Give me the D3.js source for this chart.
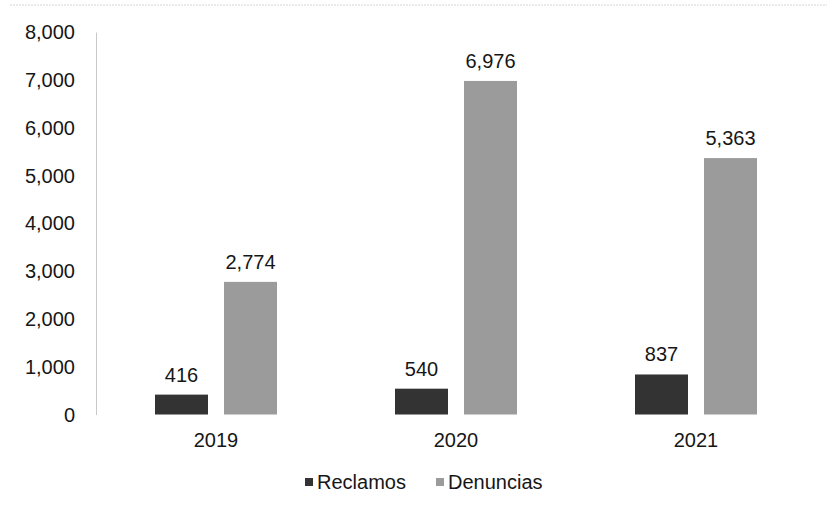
<!DOCTYPE html>
<html>
<head>
<meta charset="utf-8">
<script src="https://cdn.jsdelivr.net/npm/d3@7"></script>
<style>
  body { margin: 0; background: #fff; }
  svg text { font-family: "Liberation Sans", Arial, sans-serif; fill: #161616; font-size: 20px; }
</style>
</head>
<body>
<svg id="chart"></svg>
<script>
const WIDTH = 827;
const HEIGHT = 508;

// data
const years = ['2019', '2020', '2021'];
const series = ['Reclamos', 'Denuncias'];
const reclamos = [416, 540, 837];
const denuncias = [2774, 6976, 5363];
const yTicks = [0, 1000, 2000, 3000, 4000, 5000, 6000, 7000, 8000];
const colors = ['#333333', '#9b9b9b'];

const svg = d3.select('#chart')
    .attr('width', WIDTH)
    .attr('height', HEIGHT);

// scan artefact at the top edge
svg.append('line')
    .attr('x1', 10).attr('x2', WIDTH)
    .attr('y1', 5).attr('y2', 5)
    .attr('stroke', '#d4d4d4')
    .attr('stroke-dasharray', '2,1');

const plotLeft = 96, plotRight = 816, plotTop = 32, plotBottom = 414.5;

let x0 = d3.scaleBand()
    .domain(years)
    .range([plotLeft, plotRight]);

let x1 = d3.scaleBand()
    .domain(series)
    .range([-61, 61])
    .paddingInner(0.232);

let y = d3.scaleLinear()
    .domain([0, 8000])
    .range([plotBottom, plotTop]);

// y axis
let yAxis = d3.axisLeft(y)
    .tickValues(yTicks)
    .tickSize(0)
    .tickPadding(21)
    .tickFormat(d3.format(','));

let yg = svg.append('g')
    .attr('transform', `translate(${plotLeft},0)`)
    .call(yAxis);
yg.select('.domain').attr('stroke', '#c8c8c8');
yg.selectAll('text')
    .style('font-size', '20px')
    .attr('dy', '0.33em');

// x axis labels
let xAxis = d3.axisBottom(x0).tickSize(0).tickPadding(18);
let xg = svg.append('g')
    .attr('transform', `translate(0,${plotBottom})`)
    .call(xAxis);
xg.select('.domain').remove();
xg.selectAll('text').style('font-size', '20px');

// bars
let rows = years.map((yr, i) => ({
    year: yr,
    values: [
        { key: 'Reclamos', value: reclamos[i] },
        { key: 'Denuncias', value: denuncias[i] },
    ],
}));

let groups = svg.selectAll('.group')
    .data(rows)
    .enter().append('g')
    .attr('class', 'group')
    .attr('transform', d => `translate(${x0(d.year) + x0.bandwidth() / 2},0)`);

groups.selectAll('rect')
    .data(d => d.values)
    .enter().append('rect')
    .attr('x', d => x1(d.key))
    .attr('y', d => y(d.value))
    .attr('width', x1.bandwidth())
    .attr('height', d => plotBottom - y(d.value))
    .attr('fill', (d, i) => colors[i]);

groups.selectAll('.label')
    .data(d => d.values)
    .enter().append('text')
    .attr('class', 'label')
    .attr('x', d => x1(d.key) + x1.bandwidth() / 2)
    .attr('y', d => y(d.value) - 13)
    .attr('text-anchor', 'middle')
    .text(d => d3.format(',')(d.value));

// legend
const legendX = [305, 436];
let legend = svg.selectAll('.legend')
    .data(series)
    .enter().append('g')
    .attr('class', 'legend')
    .attr('transform', (d, i) => `translate(${legendX[i]},482)`);

legend.append('rect')
    .attr('width', 8)
    .attr('height', 8)
    .attr('y', -4)
    .attr('fill', (d, i) => colors[i]);

legend.append('text')
    .attr('x', 12)
    .attr('dy', '0.35em')
    .text(d => d);
</script>
</body>
</html>
